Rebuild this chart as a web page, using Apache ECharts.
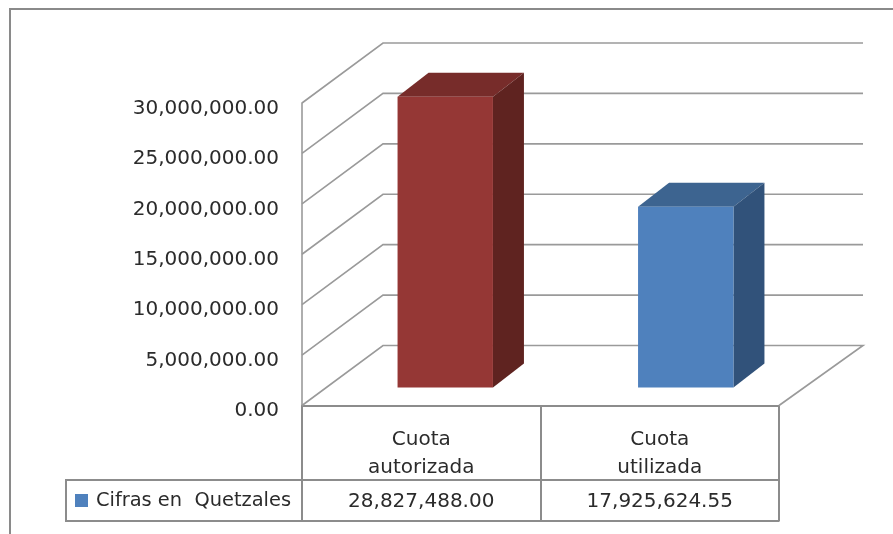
<!DOCTYPE html>
<html>
<head>
<meta charset="utf-8">
<style>
  html, body { margin: 0; padding: 0; background: #fff; }
  #chart { width: 893px; height: 534px; filter: blur(0.4px); }
</style>
<script src="https://cdn.jsdelivr.net/npm/echarts@6/dist/echarts.min.js"></script>
</head>
<body>
<div id="chart"></div>
<script>
const categories = ["Cuota\nautorizada", "Cuota\nutilizada"];
const quetzales = [28827488.0, 17925624.55];
const tickValues = [0, 5000000, 10000000, 15000000, 20000000, 25000000, 30000000];
const seriesName = "Cifras en  Quetzales";

const fontName = "DejaVu Sans";
const lineGray = "#9a9a9a";
const tableGray = "#8c8c8c";
const textColor = "#2b2b2b";
const barFaces = [
  { front: "#953735", top: "#772c2a", side: "#5f2320" },
  { front: "#4f81bd", top: "#3d6490", side: "#31527a" },
];

// fake 3d: wall depth and where the bars sit inside it
const wallDx = 81, wallDy = -60, wallEndDx = 84;
const barShiftX = [24, 26], barShiftY = -18;
const barDx = 31, barDy = -24;

const money = (v) =>
  v.toLocaleString("en-US", { minimumFractionDigits: 2, maximumFractionDigits: 2 });

function renderWall(params, api) {
  const p = api.coord([0, api.value(0)]);
  const left = p[0] - api.size([1, 0])[0] / 2;
  const isFloor = api.value(0) === 0;
  const right = left + 2 * api.size([1, 0])[0];
  const points = [
    [left, p[1]],
    [left + wallDx, p[1] + wallDy],
    [right + wallEndDx, p[1] + wallDy],
  ];
  if (isFloor) points.push([right, p[1]]);
  return {
    type: "polyline",
    shape: { points },
    style: { stroke: lineGray, lineWidth: 1.6, fill: null },
  };
}

function renderBar(params, api) {
  const i = api.value(0);
  const top = api.coord([i, api.value(1)]);
  const base = api.coord([i, 0]);
  const w = api.size([1, 0])[0] * 0.4;
  const x0 = top[0] - w / 2 + barShiftX[i];
  const x1 = x0 + w;
  const y0 = top[1] + barShiftY;
  const y1 = base[1] + barShiftY;
  const c = barFaces[i];
  return {
    type: "group",
    children: [
      {
        type: "polygon",
        shape: { points: [[x0, y0], [x1, y0], [x1 + barDx, y0 + barDy], [x0 + barDx, y0 + barDy]] },
        style: { fill: c.top },
      },
      {
        type: "polygon",
        shape: { points: [[x1, y0], [x1 + barDx, y0 + barDy], [x1 + barDx, y1 + barDy], [x1, y1]] },
        style: { fill: c.side },
      },
      { type: "rect", shape: { x: x0, y: y0, width: w, height: y1 - y0 }, style: { fill: c.front } },
    ],
  };
}

function renderTableValue(params, api) {
  const p = api.coord([api.value(0), 0]);
  return {
    type: "text",
    x: p[0],
    y: 502,
    style: {
      text: money(api.value(1)),
      font: "20px '" + fontName + "'",
      fill: textColor,
      align: "center",
      verticalAlign: "middle",
    },
  };
}

const chart = echarts.init(document.getElementById("chart"), null, { renderer: "canvas" });
chart.setOption({
  animation: false,
  backgroundColor: "#fff",
  textStyle: { fontFamily: fontName },
  grid: { left: 302, right: 114, top: 103, bottom: 128.5 },
  legend: {
    left: 70,
    top: 486,
    data: [seriesName],
    icon: "rect",
    itemWidth: 13,
    itemHeight: 13,
    itemGap: 0,
    textStyle: { fontSize: 19.4, color: textColor, fontFamily: fontName, padding: [0, 0, 0, 3] },
  },
  xAxis: {
    type: "category",
    data: categories,
    axisLine: { lineStyle: { color: tableGray, width: 2 } },
    axisTick: { show: true, length: 116, lineStyle: { color: tableGray, width: 2 } },
    axisLabel: { fontSize: 20, lineHeight: 28, color: textColor, margin: 20 },
  },
  yAxis: {
    type: "value",
    min: 0,
    max: 30000000,
    interval: 5000000,
    splitLine: { show: false },
    axisLine: { show: true, lineStyle: { color: lineGray, width: 1.6 } },
    axisTick: { show: false },
    axisLabel: {
      formatter: money,
      fontSize: 20,
      color: textColor,
      margin: 23,
      verticalAlign: "top",
      lineHeight: 11,
    },
  },
  series: [
    {
      type: "custom",
      silent: true,
      renderItem: renderWall,
      encode: { y: 0 },
      data: tickValues.map((v) => [v]),
      z: 1,
      clip: false,
    },
    {
      name: seriesName,
      type: "custom",
      renderItem: renderBar,
      itemStyle: { color: "#4f81bd" },
      encode: { x: 0, y: 1 },
      data: quetzales.map((v, i) => [i, v]),
      z: 3,
      clip: false,
    },
    {
      type: "custom",
      silent: true,
      renderItem: renderTableValue,
      encode: { x: 0, y: 1 },
      data: quetzales.map((v, i) => [i, v]),
      z: 4,
      clip: false,
    },
  ],
  graphic: [
    // outer frame, left and top only
    { type: "polyline", shape: { points: [[10, 534], [10, 9], [893, 9]] }, style: { stroke: "#8a8a8a", lineWidth: 2, fill: null } },
    // data table box
    { type: "polyline", shape: { points: [[779, 480], [66, 480], [66, 521], [779, 521]] }, style: { stroke: tableGray, lineWidth: 2, fill: null } },
  ],
});
</script>
</body>
</html>
